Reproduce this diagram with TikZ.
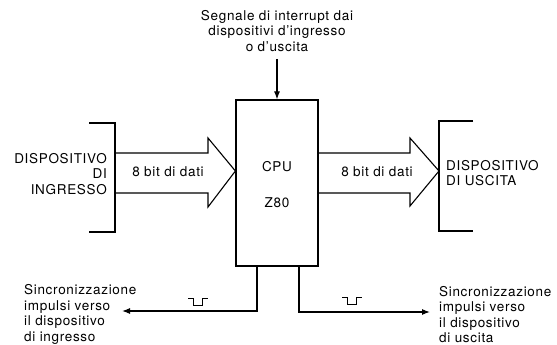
\documentclass[tikz,border=0pt]{standalone}
\usepackage{fontspec}
\setmainfont{TeX Gyre Heros}[LetterSpace=5]
\usetikzlibrary{arrows.meta}
\tikzset{
  lbl/.style={inner sep=0pt, font=\fontsize{13.5}{15.5}\selectfont},
  ln/.style={line width=1.1pt, line join=miter},
  thin/.style={line width=0.9pt},
  tip/.style={-{Latex[length=8pt,width=6pt]}},
  cpubox/.style={draw, line width=1.2pt, minimum width=82pt, minimum height=166pt, inner sep=0pt}
}
\begin{document}
\begin{tikzpicture}[x=1pt,y=-1pt]
\useasboundingbox (0,0) rectangle (557,345);
% CPU
\node[cpubox] (cpu) at (277,183) {};
\node[lbl] (cpuA) at (277,167) {CPU};
\node[lbl] (cpuB) at (277,203) {Z80};
% top label and arrow
\node[lbl, align=center] (intr) at (277,31) {Segnale di interrupt dai\\dispositivi d'ingresso\\o d'uscita};
\coordinate (intrS) at (277,59);
\draw[ln, tip] (intrS) -- (cpu.north);
% input device bracket
\draw[ln] (89,123) -- (115,123) -- (115,232) -- (89,232);
\node[lbl, align=right, anchor=east] (indev) at (107,174) {DISPOSITIVO\\DI\\INGRESSO};
% output device bracket
\draw[ln] (473,121) -- (439,121) -- (439,231) -- (473,231);
\node[lbl, align=left, anchor=west] (outdev) at (446,173) {DISPOSITIVO\\DI USCITA};
% block arrows
\draw[ln] (115,153) -- (208,153) -- (208,138) -- (cpu.west |- 0,171) -- (208,207) -- (208,193) -- (115,193);
\node[lbl] (dataL) at (168,172) {8 bit di dati};
\draw[ln] (cpu.east |- 0,153) -- (410,153) -- (410,138) -- (439,171) -- (410,206) -- (410,193) -- (cpu.east |- 0,193);
\node[lbl] (dataR) at (377,172) {8 bit di dati};
% sync lines
\coordinate (tipL) at (122,311);
\coordinate (tipR) at (430,312);
\draw[ln, tip] (cpu.south -| 257,0) -- (257,311) -- (tipL);
\draw[ln, tip] (cpu.south -| 299,0) -- (299,312) -- (tipR);
% pulse symbols
\draw[thin] (188,298) -- (193,298) -- (193,305) -- (202,305) -- (202,298) -- (208,298);
\draw[thin] (342,297) -- (347,297) -- (347,304) -- (356,304) -- (356,297) -- (362,297);
% bottom labels
\node[lbl, align=left, anchor=west] (syncL) at (24,314.5) {Sincronizzazione\\impulsi verso\\il dispositivo\\di ingresso};
\node[lbl, align=left, anchor=west] (syncR) at (439,314.5) {Sincronizzazione\\impulsi verso\\il dispositivo\\di uscita};
\end{tikzpicture}
\end{document}
